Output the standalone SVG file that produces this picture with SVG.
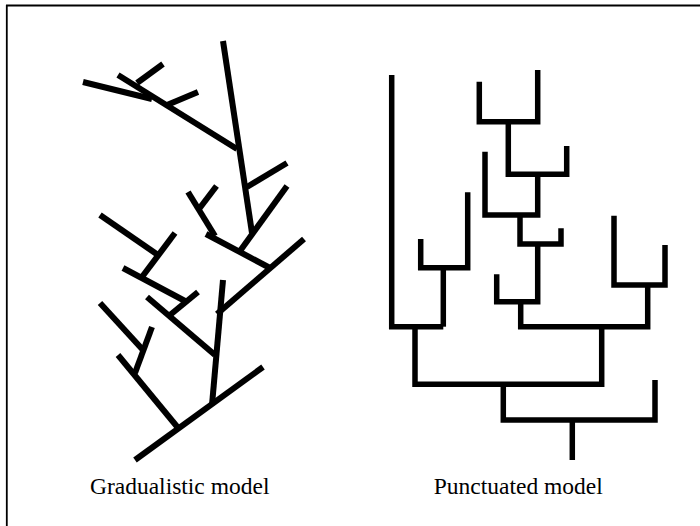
<svg xmlns="http://www.w3.org/2000/svg" width="700" height="526" viewBox="0 0 700 526">
<style>
.frame{stroke:#000;stroke-width:1.8;fill:none}
.g line{stroke:#000;stroke-width:6;stroke-linecap:butt}
.p polyline,.p line{stroke:#000;stroke-width:5.5;fill:none;stroke-linecap:butt;stroke-linejoin:miter}
.lbl{font-family:"Liberation Serif","Times New Roman",serif;font-size:23.5px;fill:#000;text-anchor:middle}
</style>
<rect width="700" height="526" fill="#fff"/>
<g id="frame">
<line class="frame" x1="6" y1="5.5" x2="700" y2="5.5"/>
<line class="frame" x1="6.8" y1="5" x2="6.8" y2="526"/>
</g>
<g id="gradualistic-tree" class="g">
<line x1="223" y1="41" x2="252" y2="233"/>
<line x1="118" y1="75" x2="237" y2="149"/>
<line x1="83" y1="82" x2="152" y2="99"/>
<line x1="137" y1="83" x2="163" y2="64"/>
<line x1="167" y1="105" x2="198" y2="92"/>
<line x1="247" y1="187" x2="287" y2="163"/>
<line x1="287" y1="186" x2="240" y2="251"/>
<line x1="188" y1="192" x2="215" y2="236"/>
<line x1="199" y1="209" x2="216.5" y2="186"/>
<line x1="206" y1="234" x2="270" y2="268"/>
<line x1="304" y1="239" x2="217" y2="314"/>
<line x1="223" y1="280" x2="212" y2="405"/>
<line x1="147" y1="297" x2="215" y2="355"/>
<line x1="170" y1="315" x2="198" y2="292"/>
<line x1="123" y1="268" x2="185" y2="301"/>
<line x1="142" y1="277" x2="175" y2="233"/>
<line x1="100" y1="215" x2="158" y2="255"/>
<line x1="100" y1="303" x2="143" y2="350"/>
<line x1="118" y1="355" x2="179" y2="429"/>
<line x1="135" y1="373" x2="152" y2="327"/>
<line x1="263" y1="367" x2="135" y2="460"/>
</g>
<g id="punctuated-tree" class="p">
<polyline points="391.7,75 391.7,326.7 443.3,326.7"/>
<polyline points="420.7,239 420.7,267.7 467.7,267.7 467.7,192.3"/>
<line x1="443.3" y1="267.7" x2="443.3" y2="326.7"/>
<polyline points="415,326.7 415,384.3 601.7,384.3 601.7,326.7"/>
<polyline points="503.3,384.3 503.3,420 655,420 655,380"/>
<line x1="572.3" y1="420" x2="572.3" y2="460"/>
<polyline points="520.7,301.7 520.7,326.7 647.7,326.7 647.7,285"/>
<polyline points="614,215.7 614,285 665,285 665,245"/>
<polyline points="496.7,274.3 496.7,301.7 537.7,301.7 537.7,244"/>
<polyline points="520,215 520,244 561,244 561,228.3"/>
<polyline points="485,151.7 485,215 537.7,215 537.7,174.3"/>
<polyline points="508.3,121.7 508.3,174.3 566.7,174.3 566.7,146"/>
<polyline points="479.3,81.7 479.3,121.7 537.7,121.7 537.7,70"/>
</g>
<g id="labels">
<text class="lbl" x="179.7" y="494">Gradualistic model</text>
<text class="lbl" x="518.3" y="494">Punctuated model</text>
</g>
</svg>
